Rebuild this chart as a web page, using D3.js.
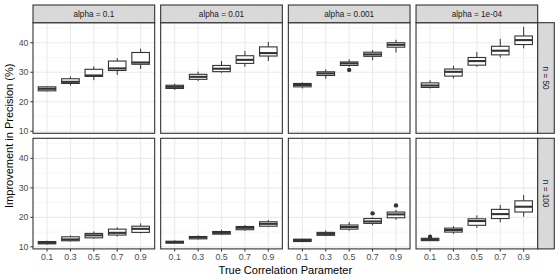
<!DOCTYPE html>
<html><head><meta charset="utf-8">
<script src="https://cdn.jsdelivr.net/npm/d3@7"></script>
<style>body{margin:0;background:#fff}svg{display:block;font-family:"Liberation Sans",Arial,sans-serif}</style>
</head><body>
<svg id="c" width="560" height="280"></svg>
<script>
const categories = ["0.1","0.3","0.5","0.7","0.9"];
const alphaLabels = ["alpha = 0.1","alpha = 0.01","alpha = 0.001","alpha = 1e-04"];
const nLabels = ["n = 50","n = 100"];
const yTicks = [10,20,30,40];
const yMinor = [15,25,35,45];
// each row: [lower whisker, q1, median, q3, upper whisker] per category
const n50_a1   = [[23.5,23.7,24.4,25.05,25.3],[25.5,26.2,26.75,27.8,28.6],[27.3,28.6,28.9,31.0,32.0],[29.1,30.6,31.3,33.8,34.8],[31.1,32.7,33.3,36.7,38.0]];
const n50_a2   = [[24.0,24.5,25.05,25.6,26.1],[27.0,27.6,28.45,29.3,30.2],[29.8,30.2,31.2,32.3,33.8],[31.85,33.0,34.2,35.6,37.2],[33.8,35.5,36.5,38.6,40.3]];
const n50_a3   = [[24.5,25.05,25.7,26.2,26.5],[27.8,28.9,29.6,30.15,31.0],[31.85,32.3,33.0,33.5,34.4],[34.1,35.4,36.05,36.8,37.5],[36.7,38.5,39.3,40.0,41.0]];
const n50_a4   = [[24.5,24.85,25.5,26.4,27.3],[27.9,28.7,30.15,31.1,32.2],[31.85,32.4,33.8,35.0,36.9],[35.0,35.9,37.3,38.8,41.3],[38.1,39.4,40.9,42.3,45.4]];
const n100_a1  = [[10.8,11.0,11.35,11.8,12.05],[11.8,12.05,12.5,13.4,13.9],[12.7,13.05,13.9,14.55,15.2],[13.5,14.0,14.75,16.0,16.6],[14.55,14.9,16.1,17.0,17.95]];
const n100_a2  = [[11.15,11.25,11.6,11.9,12.2],[12.5,12.7,13.2,13.5,13.9],[14.0,14.3,14.75,15.2,15.8],[15.45,15.8,16.45,16.9,17.4],[16.7,17.0,17.8,18.5,19.1]];
const n100_a3  = [[11.7,11.8,12.3,12.6,12.7],[13.6,13.9,14.4,14.9,15.55],[15.45,16.0,16.7,17.4,18.4],[17.3,17.95,18.6,19.6,20.0],[19.2,19.85,21.0,21.8,22.5]];
const n100_a4  = [[12.05,12.1,12.5,12.9,12.7],[14.4,15.0,15.7,16.35,17.0],[16.45,17.3,18.75,19.5,20.65],[18.3,19.6,21.1,22.7,24.2],[20.2,21.8,23.6,25.6,27.6]];
const panelStats = [[n50_a1,n50_a2,n50_a3,n50_a4],[n100_a1,n100_a2,n100_a3,n100_a4]];
// outliers: [row, col, category index, value]
const outliers = [[0,2,2,30.8],[1,2,3,21.35],[1,2,4,24.05],[1,3,0,13.4]];

const svg = d3.select("#c");
const left = 33, right = 537.7, gap = 6;
const pw = (right - left - 3*gap)/4;
const rowTops = [22.7, 138.3], ph = 110.6;
const stripTop = 5, stripRight = 554.3;
const dark = "#333333";

// discrete scale with ggplot's 0.6 expansion on each side
const x = d3.scalePoint().domain(categories).range([0,pw]).padding(0.6);
const y = d3.scaleLinear().domain([9.3,46.8]).range([ph,0]);
const bw = x.step()*0.75;

for (let r=0;r<2;r++){
  for (let c=0;c<4;c++){
    const px = left + c*(pw+gap), py = rowTops[r];
    const g = svg.append("g").attr("transform",`translate(${px},${py})`);
    g.append("rect").attr("width",pw).attr("height",ph).attr("fill","#fff");
    yMinor.forEach(v=>g.append("line").attr("x1",0).attr("x2",pw).attr("y1",y(v)).attr("y2",y(v)).attr("stroke","#F2F2F2").attr("stroke-width",0.6));
    yTicks.forEach(v=>g.append("line").attr("x1",0).attr("x2",pw).attr("y1",y(v)).attr("y2",y(v)).attr("stroke","#EBEBEB").attr("stroke-width",1.1));
    categories.forEach(k=>g.append("line").attr("x1",x(k)).attr("x2",x(k)).attr("y1",0).attr("y2",ph).attr("stroke","#EBEBEB").attr("stroke-width",1.1));
    const st = panelStats[r][c];
    categories.forEach((k,i)=>{
      const [lo,q1,md,q3,hi] = st[i];
      const cx = x(k);
      g.append("line").attr("x1",cx).attr("x2",cx).attr("y1",y(hi)).attr("y2",y(q3)).attr("stroke",dark).attr("stroke-width",1);
      g.append("line").attr("x1",cx).attr("x2",cx).attr("y1",y(q1)).attr("y2",y(lo)).attr("stroke",dark).attr("stroke-width",1);
      g.append("rect").attr("x",cx-bw/2).attr("y",y(q3)).attr("width",bw).attr("height",Math.max(0.5,y(q1)-y(q3)))
        .attr("fill","#fff").attr("stroke",dark).attr("stroke-width",1.1);
      g.append("line").attr("x1",cx-bw/2).attr("x2",cx+bw/2).attr("y1",y(md)).attr("y2",y(md)).attr("stroke",dark).attr("stroke-width",2.1);
    });
    outliers.filter(o=>o[0]===r&&o[1]===c).forEach(o=>{
      g.append("circle").attr("cx",x(categories[o[2]])).attr("cy",y(o[3])).attr("r",2.2).attr("fill",dark);
    });
    g.append("rect").attr("width",pw).attr("height",ph).attr("fill","none").attr("stroke",dark).attr("stroke-width",1.1);
    if (c===0){
      yTicks.forEach(v=>{
        g.append("line").attr("x1",-2.7).attr("x2",0).attr("y1",y(v)).attr("y2",y(v)).attr("stroke",dark).attr("stroke-width",1);
        g.append("text").attr("x",-4.5).attr("y",y(v)).attr("dy","0.35em").attr("text-anchor","end").attr("font-size",8.8).attr("fill","#4D4D4D").text(v);
      });
    }
    if (r===1){
      categories.forEach(k=>{
        g.append("line").attr("x1",x(k)).attr("x2",x(k)).attr("y1",ph).attr("y2",ph+2.7).attr("stroke",dark).attr("stroke-width",1);
        g.append("text").attr("x",x(k)).attr("y",ph+11.5).attr("text-anchor","middle").attr("font-size",8.8).attr("fill","#4D4D4D").text(k);
      });
    }
    if (r===0){
      svg.append("rect").attr("x",px).attr("y",stripTop).attr("width",pw).attr("height",rowTops[0]-stripTop)
        .attr("fill","#D9D9D9").attr("stroke",dark).attr("stroke-width",1.1);
      svg.append("text").attr("x",px+pw/2).attr("y",(stripTop+rowTops[0])/2).attr("dy","0.35em").attr("text-anchor","middle")
        .attr("font-size",8.2).attr("fill","#1A1A1A").text(alphaLabels[c]);
    }
    if (c===3){
      svg.append("rect").attr("x",px+pw).attr("y",py).attr("width",stripRight-(px+pw)).attr("height",ph)
        .attr("fill","#D9D9D9").attr("stroke",dark).attr("stroke-width",1.1);
      const tx = (px+pw+stripRight)/2, ty = py+ph/2;
      svg.append("text").attr("transform",`translate(${tx},${ty}) rotate(90)`).attr("dy","0.35em").attr("text-anchor","middle")
        .attr("font-size",8.2).attr("fill","#1A1A1A").text(nLabels[r]);
    }
  }
}
svg.append("text").attr("x",(left+right)/2).attr("y",273.5).attr("text-anchor","middle").attr("font-size",11).attr("fill","#000").text("True Correlation Parameter");
svg.append("text").attr("transform",`translate(13,${(rowTops[0]+rowTops[1]+ph)/2}) rotate(-90)`).attr("text-anchor","middle").attr("font-size",11).attr("fill","#000").text("Improvement in Precision (%)");
</script>
</body></html>
